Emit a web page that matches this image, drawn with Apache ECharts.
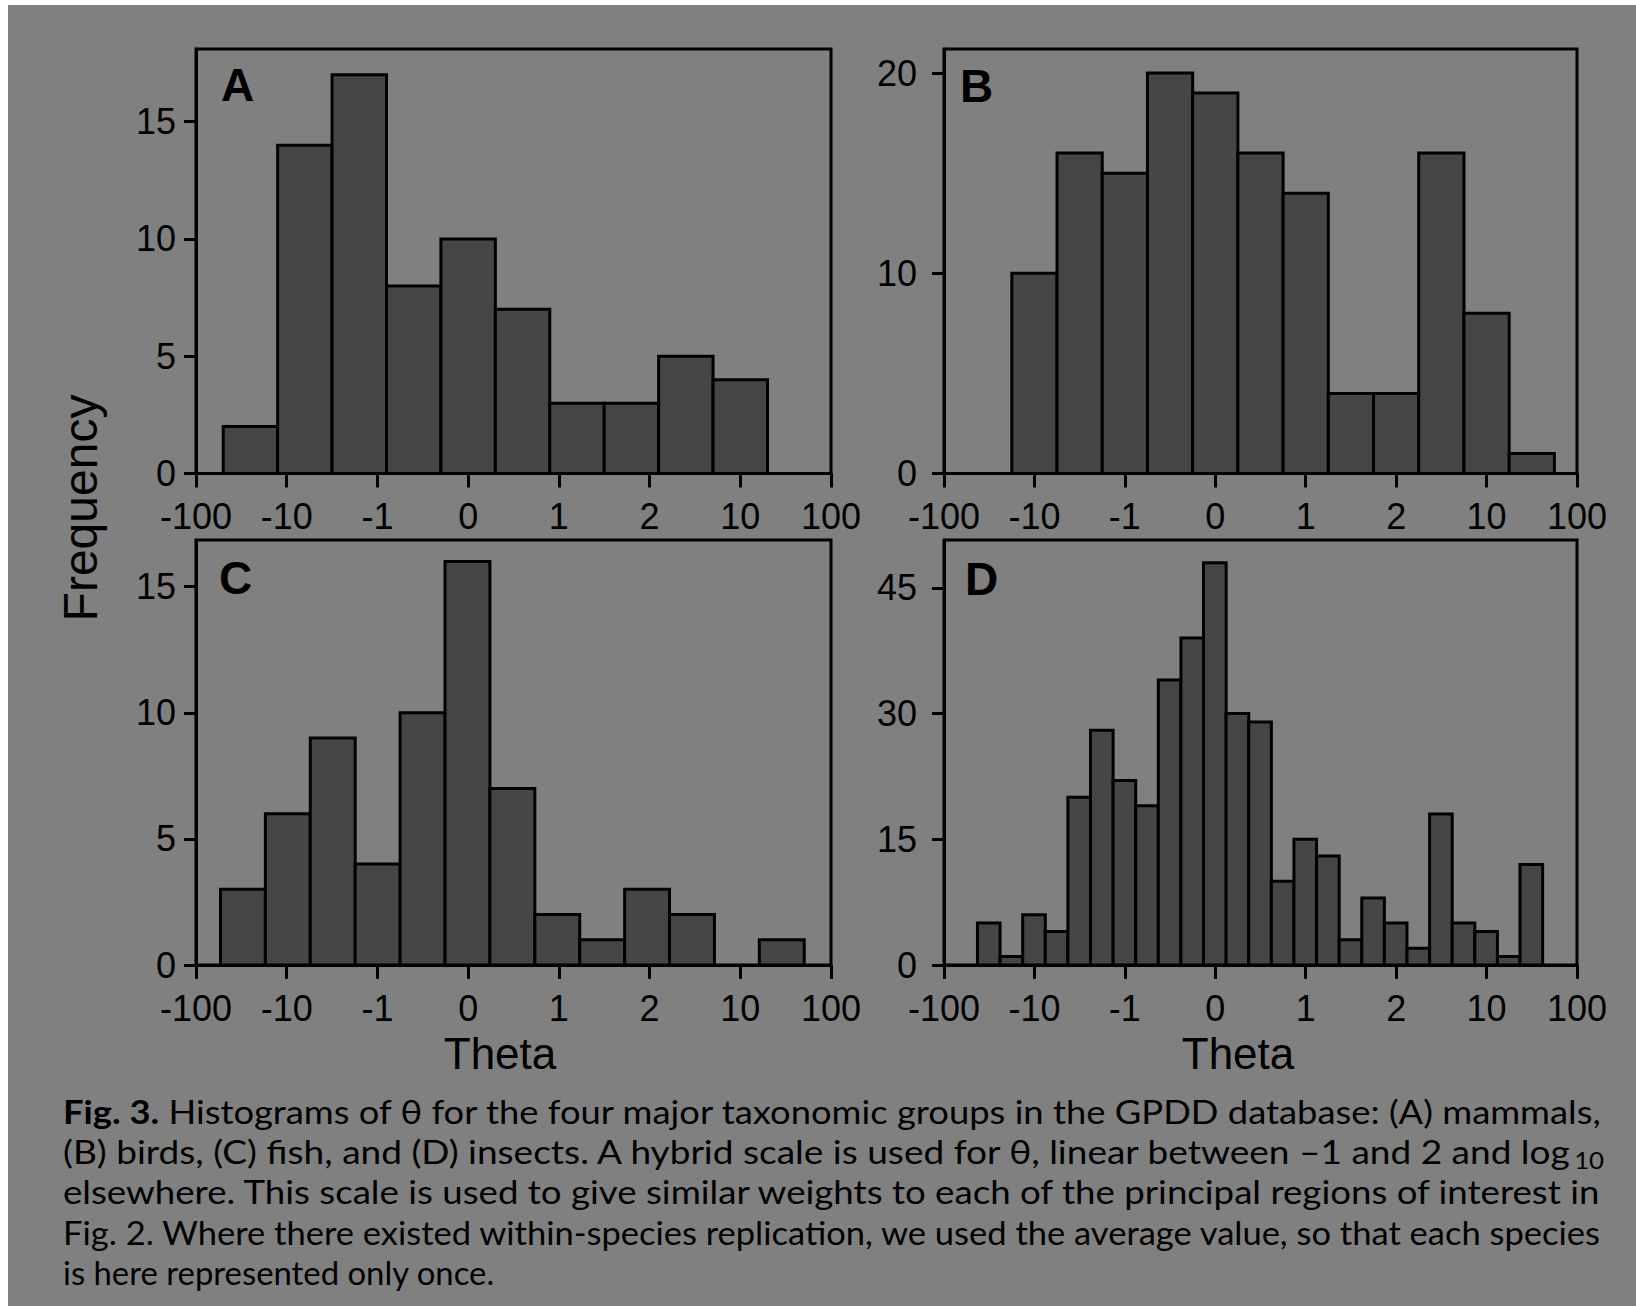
<!DOCTYPE html>
<html>
<head>
<meta charset="utf-8">
<script src="https://cdn.jsdelivr.net/npm/echarts@6/dist/echarts.min.js"></script>
<style>
  html, body { margin: 0; padding: 0; background: #ffffff; }
  #chart { width: 1636px; height: 1306px; }
</style>
</head>
<body>
<div id="chart"></div>
<script>
// Hybrid theta scale: axis positions 0..7 carry these tick labels
// (log10 below -1 and above 2, linear in between).
const thetaTicks = ['-100', '-10', '-1', '0', '1', '2', '10', '100'];

// (A) mammals: bin edges on the hybrid scale and counts per bin
const edgesA  = [0.30, 0.90, 1.50, 2.10, 2.70, 3.30, 3.90, 4.50, 5.10, 5.70, 6.30];
const countsA = [2, 14, 17, 8, 10, 7, 3, 3, 5, 4];

// (B) birds
const edgesB  = [0.75, 1.25, 1.75, 2.25, 2.75, 3.25, 3.75, 4.25, 4.75, 5.25, 5.75, 6.25, 6.75];
const countsB = [10, 16, 15, 20, 19, 16, 14, 4, 4, 16, 8, 1];

// (C) fish
const edgesC  = [0.27, 0.765, 1.26, 1.755, 2.25, 2.745, 3.24, 3.735, 4.23, 4.725, 5.22, 5.715, 6.21, 6.705];
const countsC = [3, 6, 9, 4, 10, 16, 7, 2, 1, 3, 2, 0, 1];

// (D) insects
const edgesD  = [0.37, 0.62, 0.87, 1.12, 1.37, 1.62, 1.87, 2.12, 2.37, 2.62, 2.87, 3.12, 3.37,
                 3.62, 3.87, 4.12, 4.37, 4.62, 4.87, 5.12, 5.37, 5.62, 5.87, 6.12, 6.37, 6.62];
const countsD = [5, 1, 6, 4, 20, 28, 22, 19, 34, 39, 48, 30, 29, 10, 15, 13, 3, 8, 5, 2, 18, 5, 4, 1, 12];

// Frequency axis ticks and upper limits
const freqTicksA = [0, 5, 10, 15];
const freqTicksB = [0, 10, 20];
const freqTicksC = [0, 5, 10, 15];
const freqTicksD = [0, 15, 30, 45];
const freqMaxA = 18.1;
const freqMaxB = 21.2;
const freqMaxC = 16.85;
const freqMaxD = 50.7;

const panelLetters = ['A', 'B', 'C', 'D'];

// Caption lines (justified block); "b" = bold run, "r" = regular, "sub" = subscript
const captionLines = [
  [['b', 'Fig. 3.'], ['r', ' Histograms of \u03b8 for the four major taxonomic groups in the GPDD database: (A) mammals,']],
  [['r', '(B) birds, (C) fish, and (D) insects. A hybrid scale is used for \u03b8, linear between \u20131 and 2 and log'], ['sub', '10']],
  [['r', 'elsewhere. This scale is used to give similar weights to each of the principal regions of interest in']],
  [['r', 'Fig. 2. Where there existed within-species replication, we used the average value, so that each species']],
  [['r', 'is here represented only once.']]
];

const AXIS_FONT = 'Liberation Sans, Arial, Helvetica, sans-serif';
const CAP_FONT = 'Lato, "Noto Sans", sans-serif';
const BG = '#808080';
const BAR = '#464646';
const INK = '#000000';

const panels = [
  { edges: edgesA, counts: countsA, ticks: freqTicksA, max: freqMaxA, labelGap: 20,
    rect: { left: 196, top: 49, width: 635, height: 424.5 }, letterAt: [221, 85] },
  { edges: edgesB, counts: countsB, ticks: freqTicksB, max: freqMaxB, labelGap: 27,
    rect: { left: 944, top: 49, width: 633, height: 424.5 }, letterAt: [960, 86] },
  { edges: edgesC, counts: countsC, ticks: freqTicksC, max: freqMaxC, labelGap: 20,
    rect: { left: 196, top: 540, width: 635, height: 425 }, letterAt: [219, 578] },
  { edges: edgesD, counts: countsD, ticks: freqTicksD, max: freqMaxD, labelGap: 27,
    rect: { left: 944, top: 540, width: 633, height: 425 }, letterAt: [965, 579] }
];

// Each histogram bin is a rectangle from its lower to upper edge, drawn through the axes
function renderBin(params, api) {
  const lo = api.value(0), hi = api.value(1), n = api.value(2);
  if (!n) return null;
  const topLeft = api.coord([lo, n]);
  const bottomRight = api.coord([hi, 0]);
  return {
    type: 'rect',
    shape: {
      x: topLeft[0], y: topLeft[1],
      width: bottomRight[0] - topLeft[0], height: bottomRight[1] - topLeft[1]
    },
    style: { fill: BAR, stroke: INK, lineWidth: 3 }
  };
}

const grids = [], xAxes = [], yAxes = [], series = [];
panels.forEach((p, i) => {
  grids.push(Object.assign({
    show: true, borderColor: INK, borderWidth: 3, backgroundColor: 'transparent',
    containLabel: false, outerBoundsMode: 'none'
  }, p.rect));

  xAxes.push({
    type: 'value', gridIndex: i, min: 0, max: thetaTicks.length - 1, interval: 1,
    axisLine: { show: true, onZero: false, lineStyle: { color: INK, width: 3 } },
    axisTick: { show: true, inside: false, length: 14, lineStyle: { color: INK, width: 3 } },
    axisLabel: {
      show: true, margin: 28, color: INK, fontSize: 36, lineHeight: 30, fontFamily: AXIS_FONT,
      formatter: v => thetaTicks[Math.round(v)]
    },
    splitLine: { show: false }
  });

  yAxes.push({
    type: 'value', gridIndex: i, min: 0, max: p.max, interval: p.ticks[1] - p.ticks[0],
    axisLine: { show: true, lineStyle: { color: INK, width: 3 } },
    axisTick: { show: true, inside: false, length: 12, customValues: p.ticks,
                lineStyle: { color: INK, width: 3 } },
    axisLabel: { show: true, customValues: p.ticks, margin: p.labelGap, color: INK,
                 fontSize: 36, lineHeight: 30, fontFamily: AXIS_FONT },
    splitLine: { show: false }
  });

  series.push({
    type: 'custom', xAxisIndex: i, yAxisIndex: i, clip: false,
    renderItem: renderBin,
    encode: { x: [0, 1], y: 2 },
    data: p.counts.map((c, k) => [p.edges[k], p.edges[k + 1], c])
  });
});

// Panel letters, axis titles
const graphics = [
  { type: 'rect', shape: { x: 0, y: 0, width: 1636, height: 5 }, style: { fill: '#ffffff' }, z: 100 },
  { type: 'rect', shape: { x: 0, y: 0, width: 8, height: 1306 }, style: { fill: '#ffffff' }, z: 100 }
];
panels.forEach((p, i) => {
  graphics.push({
    type: 'text', x: p.letterAt[0], y: p.letterAt[1], z: 50,
    style: { text: panelLetters[i], fill: INK, fontSize: 46, fontWeight: 'bold',
             fontFamily: AXIS_FONT, align: 'left', verticalAlign: 'middle' }
  });
});
graphics.push({
  type: 'text', x: 80, y: 508, rotation: Math.PI / 2, z: 50,
  style: { text: 'Frequency', fill: INK, fontSize: 48, fontFamily: AXIS_FONT,
           align: 'center', verticalAlign: 'middle' }
});
[500, 1238].forEach(cx => {
  graphics.push({
    type: 'text', x: cx, y: 1053, z: 50,
    style: { text: 'Theta', fill: INK, fontSize: 44, lineHeight: 34, fontFamily: AXIS_FONT,
             align: 'center', verticalAlign: 'middle' }
  });
});

// Caption: rich text lines, each stretched to the justified column width
const CAP_SIZE = 33;
const richStyles = {
  b:   { fontFamily: CAP_FONT, fontSize: CAP_SIZE, fontWeight: 'bold', fill: INK, lineHeight: 40 },
  r:   { fontFamily: CAP_FONT, fontSize: CAP_SIZE, fontWeight: 'normal', fill: INK, lineHeight: 40 },
  sub: { fontFamily: CAP_FONT, fontSize: 23, fontWeight: 'normal', fill: INK, verticalAlign: 'bottom' }
};
const capLeft = 63;
const capWidths = [1541, 1541, 1541, 1541, 432];
const capBaseY = 1111;
const capStep = 40.3;

function measure(style) {
  try {
    return new echarts.graphic.Text({ style: style }).getBoundingRect().width;
  } catch (e) {
    return 0;
  }
}

captionLines.forEach((runs, li) => {
  const text = runs.map(r => '{' + r[0] + '|' + r[1] + '}').join('');
  const style = {
    text: text, rich: richStyles, fill: INK,
    fontFamily: CAP_FONT, fontSize: CAP_SIZE, align: 'left', verticalAlign: 'middle'
  };
  const natural = measure(Object.assign({}, style));
  const sx = natural > 0 ? capWidths[li] / natural : 1;
  graphics.push({
    type: 'text', x: capLeft, y: capBaseY + li * capStep, scaleX: sx, z: 50,
    style: style
  });
});

const chart = echarts.init(document.getElementById('chart'), null, { renderer: 'svg' });
chart.setOption({
  animation: false,
  backgroundColor: BG,
  grid: grids,
  xAxis: xAxes,
  yAxis: yAxes,
  series: series,
  graphic: graphics
});
</script>
</body>
</html>
